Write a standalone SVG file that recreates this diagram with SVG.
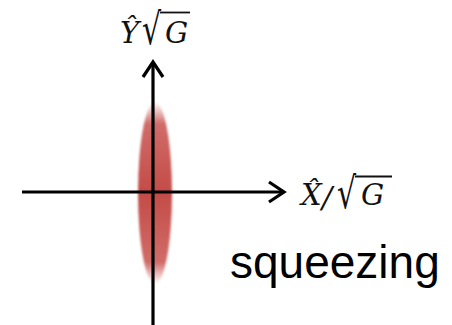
<svg xmlns="http://www.w3.org/2000/svg" width="452" height="325" viewBox="0 0 452 325">
  <style>
    .axis { stroke: #000; stroke-width: 3.2; fill: none; }
    .math { font-family: "DejaVu Serif", "Liberation Serif", serif; font-style: italic; fill: #111; }
    .rad { font-family: "DejaVu Sans", "Liberation Sans", sans-serif; fill: #111; font-size: 30px; }
    .bar { stroke: #111; stroke-width: 1.8; }
    .label { font-family: "Liberation Sans", Arial, sans-serif; font-size: 46px; fill: #000; }
  </style>
  <defs>
    <linearGradient id="fade" x1="0" y1="0" x2="0" y2="1">
      <stop offset="0" stop-color="#c8524e" stop-opacity="0"/>
      <stop offset="0.12" stop-color="#c8524e" stop-opacity="0.85"/>
      <stop offset="0.5" stop-color="#c34b47" stop-opacity="1"/>
      <stop offset="0.88" stop-color="#c8524e" stop-opacity="0.85"/>
      <stop offset="1" stop-color="#c8524e" stop-opacity="0"/>
    </linearGradient>
    <filter id="soft" x="-50%" y="-20%" width="200%" height="140%">
      <feGaussianBlur stdDeviation="0.8"/>
    </filter>
  </defs>
  <rect width="452" height="325" fill="#fff"/>
  <g id="state">
    <ellipse cx="155" cy="193" rx="17" ry="91" fill="url(#fade)" filter="url(#soft)"/>
  </g>
  <g id="connectors">
    <line class="axis" x1="22" y1="192" x2="283" y2="192"/>
    <polyline class="axis" points="269,182 284,192 269,202" stroke-linejoin="miter"/>
    <line class="axis" x1="153" y1="325" x2="153" y2="62"/>
    <polyline class="axis" points="143,77 153,62 163,77" stroke-linejoin="miter"/>
  </g>
  <g id="label-y">
    <text class="math" x="120" y="43" font-size="29">Ŷ</text>
    <text class="rad" transform="translate(142,44) scale(1,1.45)">√</text>
    <line class="bar" x1="160" y1="12.5" x2="190" y2="12.5"/>
    <text class="math" x="165" y="43" font-size="29">G</text>
  </g>
  <g id="label-x">
    <text class="math" x="301" y="205" font-size="29">X̂</text>
    <text class="math" x="322" y="208" font-size="30" font-style="normal">/</text>
    <text class="rad" transform="translate(337,208) scale(1,1.45)">√</text>
    <line class="bar" x1="355" y1="176.5" x2="392" y2="176.5"/>
    <text class="math" x="361" y="205" font-size="29">G</text>
  </g>
  <g id="label-squeezing">
    <text class="label" x="230" y="278">squeezing</text>
  </g>
</svg>
